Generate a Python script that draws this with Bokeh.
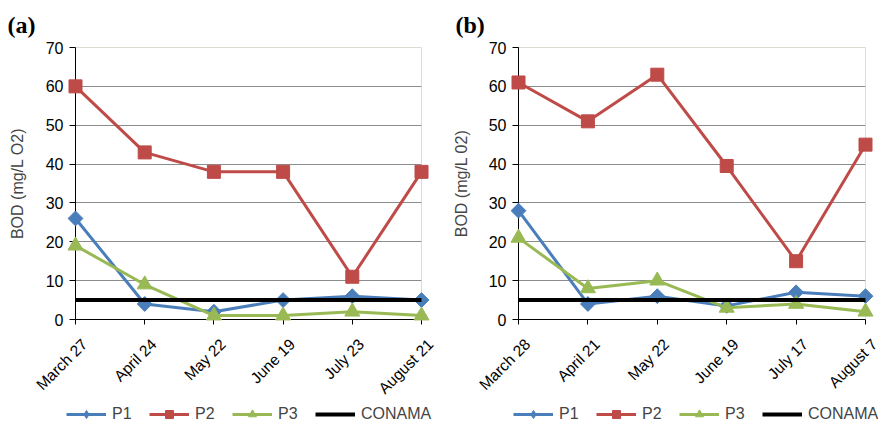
import math
from bokeh.plotting import figure
from bokeh.layouts import row, column
from bokeh.models import Range1d, FixedTicker, Legend, LegendItem
from bokeh.core.properties import value
from bokeh.embed import file_html
from bokeh.resources import INLINE

# ---------------- data ----------------
dates_a = ["March 27", "April 24", "May 22", "June 19", "July 23", "August 21"]
p1_a = [26, 4, 2, 5, 6, 5]
p2_a = [60, 43, 38, 38, 11, 38]
p3_a = [19, 9, 1, 1, 2, 1]
conama_a = [5, 5, 5, 5, 5, 5]

dates_b = ["March 28", "April 21", "May 22", "June 19", "July 17", "August 7"]
p1_b = [28, 4, 6, 3.5, 7, 6]
p2_b = [61, 51, 63, 39.5, 15, 45]
p3_b = [21, 8, 10, 3, 4, 2]
conama_b = [5, 5, 5, 5, 5, 5]

y_ticks = [0, 10, 20, 30, 40, 50, 60, 70]
series_names = ["P1", "P2", "P3", "CONAMA"]

BLUE = "#4a7ebb"
RED = "#be4b48"
GREEN = "#98b954"
FONT = "Liberation Sans"
FONT_VALUE = value(FONT)

MAIN_H = 404
LEG_H = 20
FRAME_TOP = 47
FRAME_BOTTOM = 319

STYLES = [
    dict(color=BLUE, marker="square", angle=math.pi / 4, size=10.5, lw=3, leg_marker="diamond"),
    dict(color=RED, marker="square", angle=0, size=13, lw=3, leg_marker="square"),
    dict(color=GREEN, marker="triangle", angle=0, size=15, lw=3, leg_marker="triangle"),
    dict(color="black", marker=None, angle=0, size=0, lw=4, leg_marker=None),
]


def panel(tag, dates, series, ylabel, width, bl, br, tag_dx, ylab_standoff):
    xs = list(range(len(dates)))
    p = figure(width=width, height=MAIN_H, output_backend="svg", toolbar_location=None,
               x_range=Range1d(0, len(dates) - 1), y_range=Range1d(y_ticks[0], y_ticks[-1]),
               min_border_left=bl, min_border_right=br, min_border_top=FRAME_TOP,
               min_border_bottom=MAIN_H - FRAME_BOTTOM)
    p.outline_line_color = "#dcdcd0"
    p.outline_line_width = 1
    p.background_fill_color = "white"
    p.border_fill_color = "white"
    p.xgrid.visible = False
    p.ygrid.grid_line_color = "#8c8c8c"
    p.ygrid.grid_line_width = 1
    p.ygrid.ticker = FixedTicker(ticks=y_ticks)

    p.yaxis.ticker = FixedTicker(ticks=y_ticks)
    p.yaxis.axis_label = ylabel
    p.yaxis.axis_label_text_font = FONT
    p.yaxis.axis_label_text_font_style = "normal"
    p.yaxis.axis_label_text_font_size = "16px"
    p.yaxis.axis_label_standoff = ylab_standoff
    p.yaxis.major_label_text_font = FONT
    p.yaxis.major_label_text_font_size = "16px"
    p.yaxis.major_label_text_color = "black"
    p.yaxis.major_label_standoff = 6
    p.yaxis.major_tick_out = 6
    p.yaxis.major_tick_in = 0
    p.yaxis.minor_tick_line_color = None
    p.yaxis.axis_line_color = "black"
    p.yaxis.major_tick_line_color = "black"

    p.xaxis.ticker = FixedTicker(ticks=xs)
    p.xaxis.major_label_text_color = None
    p.xaxis.major_tick_out = 5
    p.xaxis.major_tick_in = 0
    p.xaxis.minor_tick_line_color = None
    p.xaxis.axis_line_color = "black"
    p.xaxis.major_tick_line_color = "black"

    # rotated category labels, anchored at each tick of the x axis
    p.text(x=xs, y=[y_ticks[0]] * len(xs), text=dates, angle=math.pi / 4,
           text_align="right", text_baseline="top", x_offset=3, y_offset=16,
           text_font=FONT_VALUE, text_font_size="15.5px", text_color="black", level="overlay")

    # panel tag, anchored at the top of the value axis
    p.text(x=[xs[0]], y=[y_ticks[-1]], text=[tag], x_offset=tag_dx, y_offset=-23,
           text_align="left", text_baseline="middle", text_font=value("Liberation Serif"),
           text_font_style="bold", text_font_size="24px", text_color="black", level="overlay")

    for vals, st in zip(series, STYLES):
        p.line(xs, vals, line_color=st["color"], line_width=st["lw"], level="overlay")
        if st["marker"]:
            p.scatter(xs, vals, marker=st["marker"], angle=st["angle"], size=st["size"],
                      fill_color=st["color"], line_color=st["color"], level="overlay")
    return p


def legend_fig(width, series, leg_x):
    # a strip holding only the legend; its renderers lie outside the strip's ranges
    p = figure(width=width, height=LEG_H, output_backend="svg", toolbar_location=None,
               x_range=Range1d(-20, -10), y_range=Range1d(-20, -10),
               x_axis_type=None, y_axis_type=None,
               min_border=0, min_border_left=0, min_border_right=0, min_border_top=0,
               min_border_bottom=0)
    p.outline_line_color = None
    p.background_fill_color = "white"
    p.border_fill_color = "white"
    xs = list(range(len(series[0])))
    items = []
    for name, vals, st in zip(series_names, series, STYLES):
        rs = [p.line(xs, vals, line_color=st["color"], line_width=st["lw"])]
        if st["leg_marker"]:
            rs.append(p.scatter(xs, vals, marker=st["leg_marker"], size=st["size"],
                                fill_color=st["color"], line_color=st["color"]))
        items.append(LegendItem(label=name, renderers=rs))
    leg = Legend(items=items, orientation="horizontal", location=(leg_x, 0),
                 glyph_width=40, glyph_height=20, label_height=20, label_standoff=6,
                 spacing=17, padding=0, margin=0, border_line_color=None,
                 background_fill_alpha=0, label_text_font=FONT, label_text_font_size="16px")
    p.add_layout(leg)
    return p


series_a = [p1_a, p2_a, p3_a, conama_a]
series_b = [p1_b, p2_b, p3_b, conama_b]
pa = panel("(a)", dates_a, series_a, "BOD (mg/L O2)", 446, 75, 25, -68, 17)
pb = panel("(b)", dates_b, series_b, "BOD (mg/L 02)", 432, 72, 13, -63, 16)
la = legend_fig(446, series_a, 66)
lb = legend_fig(432, series_b, 67)

layout = column(row(pa, pb), row(la, lb))
open("out.html", "w").write(file_html(layout, INLINE))
